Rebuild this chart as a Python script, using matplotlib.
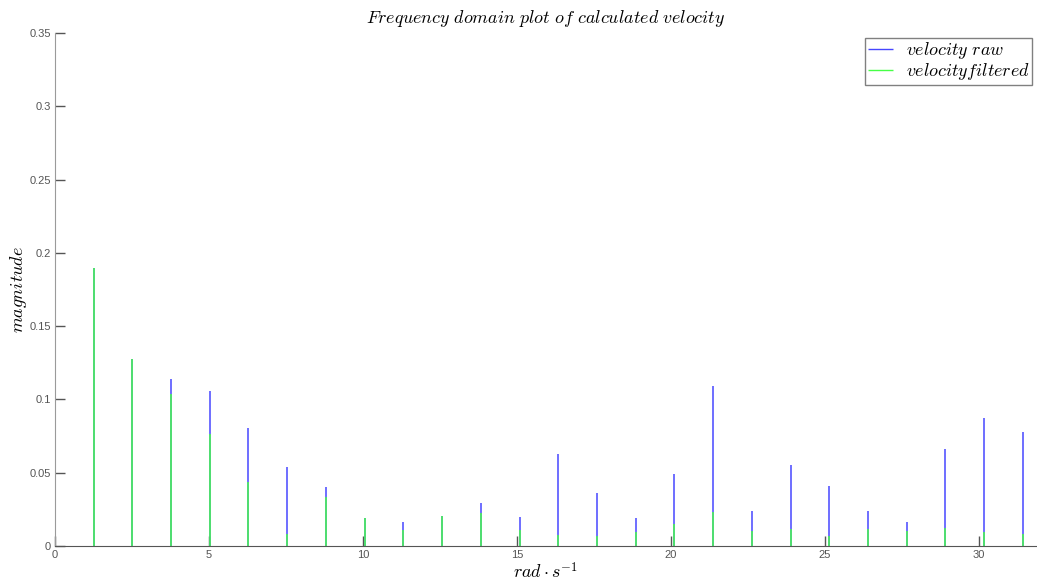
import matplotlib
matplotlib.use('Agg')
from matplotlib import pyplot as plt
from matplotlib import ticker

plt.rcParams['mathtext.fontset'] = 'cm'

# frequencies (rad/s) of each spectral line
freq = [1.26, 2.51, 3.77, 5.03, 6.28, 7.54, 8.80, 10.05, 11.31, 12.57, 13.82, 15.08, 16.34,
        17.59, 18.85, 20.11, 21.36, 22.62, 23.88, 25.13, 26.39, 27.65, 28.90, 30.16, 31.42]
# magnitude of raw velocity
vel_raw = [0.190, 0.1275, 0.1137, 0.106, 0.0803, 0.0537, 0.040, 0.0191, 0.0164, 0.0207, 0.029,
           0.020, 0.0628, 0.036, 0.0191, 0.0491, 0.1094, 0.0241, 0.055, 0.041, 0.0241, 0.0164,
           0.0662, 0.0871, 0.078]
# magnitude of filtered velocity
vel_filt = [0.1896, 0.1275, 0.104, 0.0764, 0.0439, 0.0082, 0.0336, 0.0191, 0.0109, 0.0207, 0.0223,
            0.0109, 0.0075, 0.0068, 0.0095, 0.015, 0.0234, 0.010, 0.0114, 0.0068, 0.0116, 0.0102,
            0.0123, 0.0095, 0.0084]
xticks = [0, 5, 10, 15, 20, 25, 30]
yticks = [0, 0.05, 0.1, 0.15, 0.2, 0.25, 0.3, 0.35]

fig = plt.figure(figsize=(10.37, 5.87), dpi=100)
ax = fig.add_axes([55 / 1037, 41 / 587, 982 / 1037, 513 / 587])

ax.vlines(freq, 0, vel_raw, color='#4646ff', lw=1.1, label=r'$velocity\ raw$')
ax.vlines(freq, 0, vel_filt, color='#46ff46', lw=1.1, label=r'$velocityfiltered$')

ax.set_xlim(0, 31.88)
ax.set_ylim(0, 0.35)
ax.set_xticks(xticks)
ax.set_yticks(yticks)
ax.yaxis.set_major_formatter(ticker.FormatStrFormatter('%g'))

for side in ['top', 'right']:
    ax.spines[side].set_visible(False)
ax.spines['left'].set_color('#9a9a9a')
ax.spines['bottom'].set_color('#555555')
ax.tick_params(direction='in', length=7, width=1, colors='#555555', pad=3)
for lab in ax.get_xticklabels() + ax.get_yticklabels():
    lab.set_fontfamily('Liberation Sans')
    lab.set_fontsize(8)
    lab.set_color('#555555')

ax.set_title(r'$Frequency\ domain\ plot\ of\ calculated\ velocity$', fontsize=13, pad=7)
ax.set_xlabel(r'$rad\cdot s^{-1}$', fontsize=13, labelpad=1)
ax.set_ylabel(r'$magnitude$', fontsize=13, labelpad=0)

leg = ax.legend(loc='upper right', fontsize=13, fancybox=False, handlelength=1.4,
                borderaxespad=0.25, labelspacing=0.0, borderpad=0.15, handletextpad=0.7)
leg.get_frame().set_edgecolor('#606060')
leg.get_frame().set_linewidth(1)
for h in leg.legend_handles:
    h.set_linewidth(1)

plt.savefig('out.png', dpi=100)
